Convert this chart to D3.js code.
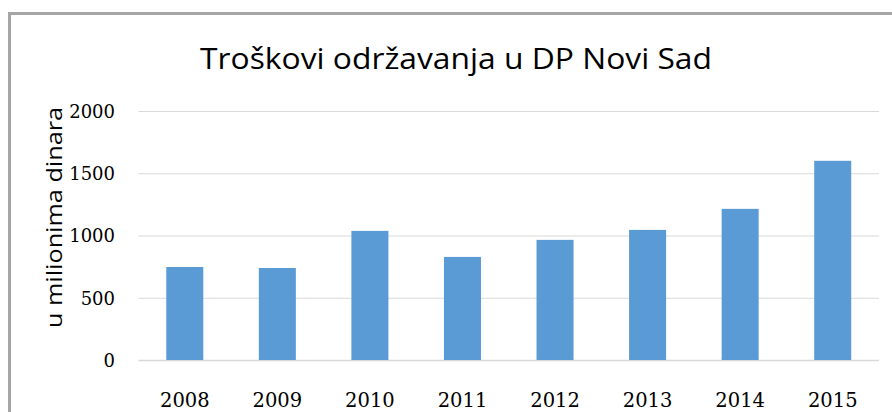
<!DOCTYPE html>
<html>
<head>
<meta charset="utf-8">
<script src="https://cdn.jsdelivr.net/npm/d3@7"></script>
<style>
  html, body { margin: 0; padding: 0; background: #fff; }
  svg { display: block; }
</style>
</head>
<body>
<svg id="chart" width="892" height="412"></svg>
<script>
const categories = ["2008", "2009", "2010", "2011", "2012", "2013", "2014", "2015"];
const values = [747, 739, 1037, 828, 965, 1045, 1214, 1600];
const yTicks = [0, 500, 1000, 1500, 2000];
const title = "Troškovi održavanja u DP Novi Sad";
const yLabel = "u milionima dinara";

const svg = d3.select("#chart");

// frame
svg.append("rect")
  .attr("x", 9.5).attr("y", 13.5)
  .attr("width", 900).attr("height", 420)
  .attr("fill", "#fff")
  .attr("stroke", "#a6a6a6").attr("stroke-width", 3);

const x = d3.scaleBand().domain(categories).range([138.5, 879]).paddingInner(0.6).paddingOuter(0.3);
const y = d3.scaleLinear().domain([0, 2000]).range([360, 111]);

// gridlines
const grid = svg.append("g")
  .attr("transform", "translate(138.5,0)")
  .call(d3.axisLeft(y).tickValues(yTicks).tickSize(-(879 - 138.5)).tickFormat(""));
grid.select(".domain").remove();
grid.selectAll(".tick line").attr("stroke", "#d9d9d9").attr("stroke-width", d => d === 0 ? 1.5 : 1);

// bars
svg.append("g").selectAll("rect")
  .data(categories)
  .join("rect")
  .attr("x", d => x(d))
  .attr("width", x.bandwidth())
  .attr("y", (d, i) => y(values[i]))
  .attr("height", (d, i) => y(0) - y(values[i]))
  .attr("fill", "#5b9bd5");

// y tick labels
const yAxis = svg.append("g")
  .attr("transform", "translate(115,0)")
  .call(d3.axisLeft(y).tickValues(yTicks).tickSize(0).tickPadding(0).tickFormat(d3.format("d")));
yAxis.select(".domain").remove();
yAxis.selectAll("text")
  .attr("font-family", "'DejaVu Serif', serif")
  .attr("font-size", 18).attr("fill", "#000")
  .attr("dy", "0.36em");

// x tick labels
const xAxis = svg.append("g")
  .attr("transform", "translate(0,360)")
  .call(d3.axisBottom(x).tickSize(0).tickPadding(0));
xAxis.select(".domain").remove();
xAxis.selectAll("text")
  .attr("font-family", "'DejaVu Serif', serif")
  .attr("font-size", 19.5).attr("fill", "#000")
  .attr("dy", null)
  .attr("y", 46.5);

// title
svg.append("text")
  .attr("x", 456).attr("y", 68.5)
  .attr("text-anchor", "middle")
  .attr("font-family", "'Open Sans', sans-serif")
  .attr("font-size", 30)
  .attr("textLength", 512)
  .attr("lengthAdjust", "spacingAndGlyphs")
  .attr("fill", "#000")
  .text(title);

// y axis label
svg.append("text")
  .attr("transform", "translate(62,217.5) rotate(-90)")
  .attr("text-anchor", "middle")
  .attr("font-family", "'Open Sans', sans-serif")
  .attr("font-size", 22)
  .attr("textLength", 221)
  .attr("lengthAdjust", "spacingAndGlyphs")
  .attr("fill", "#000")
  .text(yLabel);
</script>
</body>
</html>
